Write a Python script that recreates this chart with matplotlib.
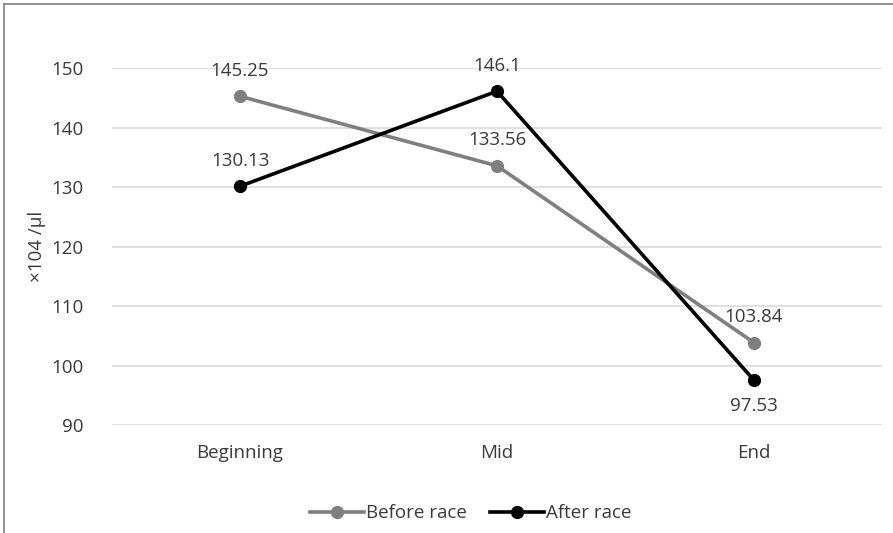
import matplotlib.pyplot as plt
from matplotlib.lines import Line2D

plt.rcParams['font.family'] = ['Open Sans', 'DejaVu Sans']

categories = ['Beginning', 'Mid', 'End']
before_race = [145.25, 133.56, 103.84]
after_race = [130.13, 146.1, 97.53]
# label placement: +1 above the point, -1 below
before_pos = [1, 1, 1]
after_pos = [1, 1, -1]
y_ticks = [90, 100, 110, 120, 130, 140, 150]

FS = 13.5
TXT = '#3a3a3a'

fig = plt.figure(figsize=(8.93, 5.33), dpi=100)
ax = fig.add_axes([0.1249, 0.2026, 0.8633, 0.6698])

# outer frame (left and top only, as in the cropped picture)
fig.add_artist(Line2D([0.0045, 0.0045], [0, 0.9925], color='#7f7f7f', lw=1.2))
fig.add_artist(Line2D([0.0045, 1], [0.9925, 0.9925], color='#7f7f7f', lw=1.2))

x = list(range(len(categories)))
ax.plot(x, before_race, color='#7f7f7f', lw=2.6, marker='o', ms=8.5, label='Before race', zorder=3)
ax.plot(x, after_race, color='black', lw=2.6, marker='o', ms=8.5, label='After race', zorder=4)

for xi, v, p in zip(x, before_race, before_pos):
    ax.annotate(f'{v:g}', (xi, v), xytext=(0, 12 * p), textcoords='offset points',
                ha='center', va='bottom' if p > 0 else 'top', fontsize=FS, color=TXT)
for xi, v, p in zip(x, after_race, after_pos):
    ax.annotate(f'{v:g}', (xi, v), xytext=(0, 12 * p), textcoords='offset points',
                ha='center', va='bottom' if p > 0 else 'top', fontsize=FS, color=TXT)

ax.set_xlim(-0.5, 2.5)
ax.set_ylim(90, 150)
ax.set_yticks(y_ticks)
ax.set_xticks(x)
ax.set_xticklabels(categories)
ax.grid(axis='y', color='#d9d9d9', lw=1.2)
ax.set_axisbelow(True)
for s in ax.spines.values():
    s.set_visible(False)
ax.tick_params(length=0, labelsize=FS, labelcolor=TXT)
ax.tick_params(axis='x', pad=14)
ax.tick_params(axis='y', pad=20)
ax.set_ylabel('×104 /µl', fontsize=FS, color=TXT, labelpad=4)

fig.legend(loc='center', bbox_to_anchor=(0.527, 0.037), ncol=2, frameon=False,
           fontsize=FS, handlelength=2.9, columnspacing=1.2, handletextpad=0.1,
           labelcolor=TXT)

fig.savefig('out.png', dpi=100)
